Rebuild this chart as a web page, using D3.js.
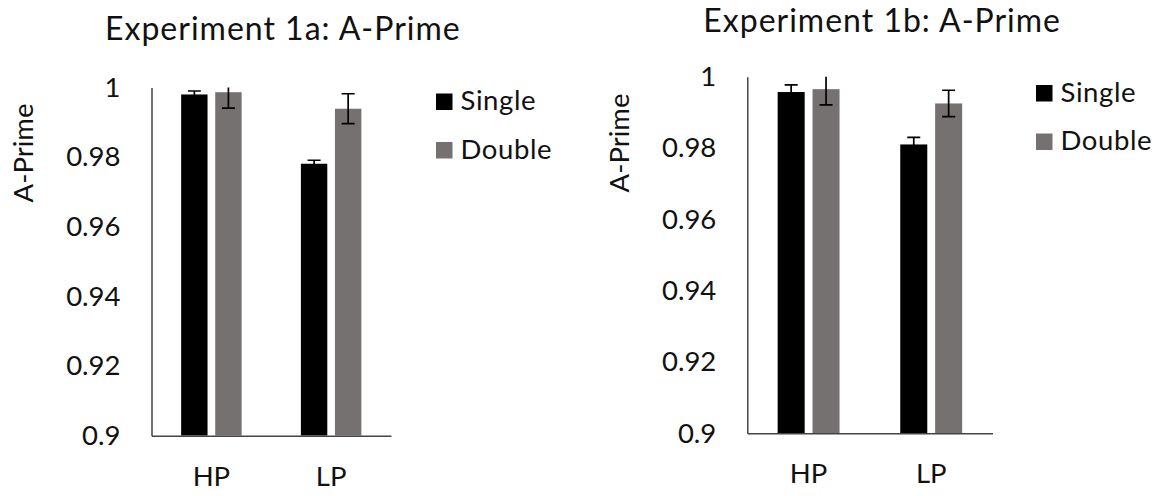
<!DOCTYPE html>
<html>
<head>
<meta charset="utf-8">
<script src="https://cdn.jsdelivr.net/npm/d3@7"></script>
<style>
  html, body { margin: 0; padding: 0; background: #fff; }
  svg { display: block; font-family: Lato, "Open Sans", sans-serif; }
</style>
</head>
<body>
<svg id="chart" width="1164" height="496"></svg>
<script>
// Categories, series and tick values
const categories = ["HP", "LP"];
const seriesNames = ["Single", "Double"];
const yTicks = [0.9, 0.92, 0.94, 0.96, 0.98, 1];

// Experiment 1a means and error half-widths
const exp1aSingle = [0.9980, 0.9781];
const exp1aDouble = [0.99865, 0.9939];
const exp1aSingleErr = [0.0010, 0.0010];
const exp1aDoubleErr = [0.0046, 0.0043];

// Experiment 1b means and error half-widths
const exp1bSingle = [0.9957, 0.9810];
const exp1bDouble = [0.9965, 0.9925];
const exp1bSingleErr = [0.0020, 0.0020];
const exp1bDoubleErr = [0.0044, 0.0037];

const seriesColors = ["#000000", "#767171"];
const yLabel = "A-Prime";

const panels = [
  {
    title: "Experiment 1a: A-Prime",
    values: [exp1aSingle, exp1aDouble],
    errors: [exp1aSingleErr, exp1aDoubleErr],
    box: { left: 151.5, right: 391, top: 87.5, bottom: 435.7 },
    titlePos: [105, 39.5],
    yTitlePos: [33, 153],
    legendPos: [436, 93.5]
  },
  {
    title: "Experiment 1b: A-Prime",
    values: [exp1bSingle, exp1bDouble],
    errors: [exp1bSingleErr, exp1bDoubleErr],
    box: { left: 747.3, right: 992.5, top: 76.7, bottom: 433.3 },
    titlePos: [703.3, 32],
    yTitlePos: [629, 143],
    legendPos: [1036, 85]
  }
];

const svg = d3.select("#chart");
const defs = svg.append("defs");

panels.forEach((p, idx) => {
  const b = p.box;
  const g = svg.append("g");

  const y = d3.scaleLinear().domain([0.9, 1]).range([b.bottom, b.top]);
  const x0 = d3.scaleBand().domain(categories).range([b.left, b.right]);
  const groupW = x0.bandwidth() * 0.505;
  const x1 = d3.scaleBand().domain(seriesNames)
    .range([(x0.bandwidth() - groupW) / 2, (x0.bandwidth() + groupW) / 2])
    .paddingInner(0.225);

  // plot-area clip so error bars stop at the axis maximum
  const clipId = "plot-clip-" + idx;
  defs.append("clipPath").attr("id", clipId)
    .append("rect")
    .attr("x", b.left).attr("y", b.top)
    .attr("width", b.right - b.left).attr("height", b.bottom - b.top);

  const plot = g.append("g").attr("clip-path", `url(#${clipId})`);

  seriesNames.forEach((s, si) => {
    const vals = p.values[si];
    const errs = p.errors[si];
    categories.forEach((c, ci) => {
      const bx = x0(c) + x1(s);
      const v = vals[ci];
      plot.append("rect")
        .attr("x", bx)
        .attr("y", y(v))
        .attr("width", x1.bandwidth())
        .attr("height", y(0.9) - y(v))
        .attr("fill", seriesColors[si]);

      const cx = bx + x1.bandwidth() / 2;
      const hi = y(v + errs[ci]);
      const lo = y(v - errs[ci]);
      const capW = 6.5;
      const eg = plot.append("g")
        .attr("stroke", "#000").attr("stroke-width", 1.7).attr("fill", "none");
      eg.append("line").attr("x1", cx).attr("x2", cx).attr("y1", hi).attr("y2", lo);
      eg.append("line").attr("x1", cx - capW).attr("x2", cx + capW).attr("y1", hi).attr("y2", hi);
      eg.append("line").attr("x1", cx - capW).attr("x2", cx + capW).attr("y1", lo).attr("y2", lo);
    });
  });

  // y axis
  const yAxis = d3.axisLeft(y).tickValues(yTicks)
    .tickSize(0).tickPadding(31)
    .tickFormat(d3.format("~g"));
  const ya = g.append("g").attr("transform", `translate(${b.left},0)`).call(yAxis);
  ya.select(".domain").attr("stroke", "#444").attr("stroke-width", 1.5);
  ya.selectAll("text").attr("font-size", 27.5).attr("fill", "#111")
    .attr("font-family", "Lato, 'Open Sans', sans-serif");

  // x axis
  const xAxis = d3.axisBottom(x0).tickSize(0).tickPadding(0);
  const xa = g.append("g").attr("transform", `translate(0,${b.bottom})`).call(xAxis);
  xa.select(".domain").attr("stroke", "#444").attr("stroke-width", 1.5);
  xa.selectAll("text").attr("font-size", 27.5).attr("fill", "#111")
    .attr("dy", 0).attr("y", 50)
    .attr("font-family", "Lato, 'Open Sans', sans-serif");

  // chart title
  g.append("text")
    .attr("x", p.titlePos[0]).attr("y", p.titlePos[1])
    .attr("font-size", 32).attr("letter-spacing", 1).attr("fill", "#111")
    .text(p.title);

  // y axis title
  g.append("text")
    .attr("transform", `translate(${p.yTitlePos[0]},${p.yTitlePos[1]}) rotate(-90)`)
    .attr("text-anchor", "middle")
    .attr("font-size", 27.5).attr("fill", "#111")
    .text(yLabel);

  // legend
  seriesNames.forEach((s, si) => {
    const ly = p.legendPos[1] + si * 48.5;
    g.append("rect")
      .attr("x", p.legendPos[0]).attr("y", ly)
      .attr("width", 16.5).attr("height", 16.5)
      .attr("fill", seriesColors[si]);
    g.append("text")
      .attr("x", p.legendPos[0] + 24.5).attr("y", ly + 16.8)
      .attr("font-size", 27.5).attr("letter-spacing", 0.6).attr("fill", "#111")
      .text(s);
  });
});
</script>
</body>
</html>
